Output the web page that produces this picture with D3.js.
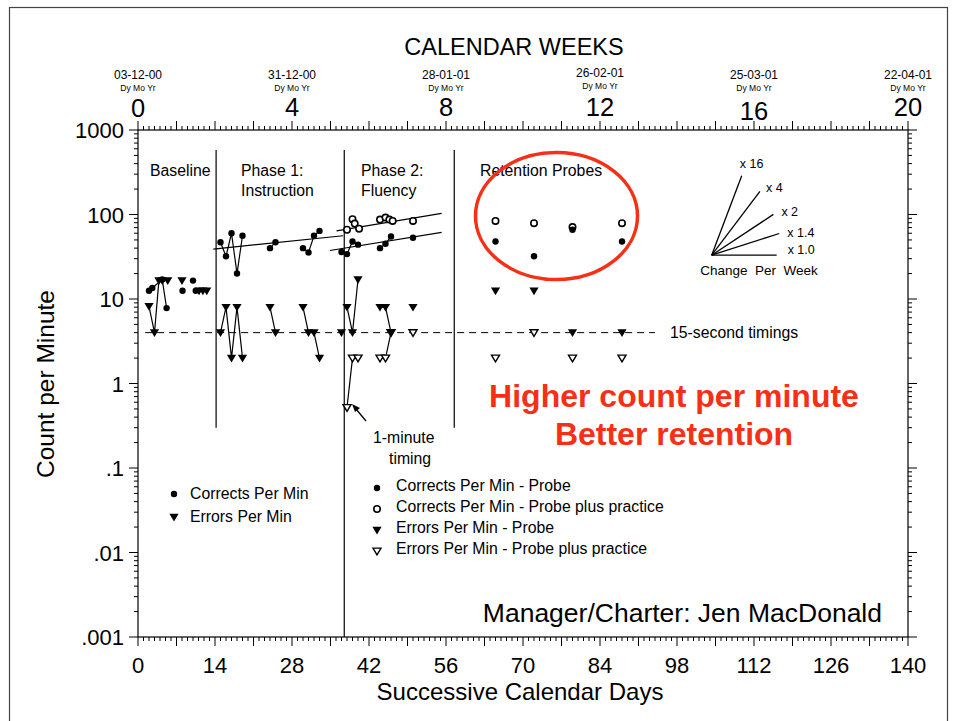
<!DOCTYPE html>
<html>
<head>
<meta charset="utf-8">
<script src="https://cdn.jsdelivr.net/npm/d3@7"></script>
<style>
  body { margin: 0; background: #fff; }
  svg text { font-family: "Liberation Sans", Arial, Helvetica, sans-serif; fill: #000; }
</style>
</head>
<body>
<div id="chart"></div>
<script>
// standard celeration chart - reading program
// values: [day, count per minute, run]
// points with the same run id (not 0) are joined by a line

var corrects = [
  [2, 12.5, 1], [2.6, 13.5, 1], [4.4, 17, 1], [5.2, 7.8, 1],
  [8.1, 12.5, 0], [10, 16.5, 0], [10.5, 12.5, 0],
  [15, 47, 2], [16, 32, 2], [17, 60, 2], [18, 20, 2], [19, 56, 2],
  [24, 40, 3], [25, 47, 3],
  [30, 40, 4], [31, 35.5, 4], [32, 56, 4], [33, 64, 4],
  [37, 36, 5], [38, 34, 5], [39, 48, 5], [40, 44, 5],
  [44, 40, 6], [45, 45, 6], [46, 55, 6], [50, 53, 0]
];

var errors = [
  [2, 8.2, 1], [3, 4, 1], [3.8, 16.5, 1], [4.4, 16.5, 0], [5.4, 16.5, 0],
  [8, 16.5, 0], [11.1, 12.5, 0], [11.8, 12.5, 0], [12.5, 12.5, 0],
  [15, 4, 2], [16, 8, 2], [17, 2, 2], [18, 8, 2], [19, 2, 2],
  [24, 8, 3], [25, 4, 3],
  [30, 8, 4], [31, 4, 4], [32, 4, 4], [33, 2, 4],
  [37, 4, 0], [38, 8, 5], [39, 4, 5], [40, 17, 5],
  [44, 8, 6], [45, 8, 6], [46, 4, 6], [50, 8, 0]
];

// probe only / probe plus practice
var probeCorrects = [[65, 48], [72, 32], [79, 66], [88, 48]];
var practiceCorrects = [
  [38, 66, 0], [39, 88, 0], [39.4, 78, 0], [40.2, 68, 0],
  [44, 87, 0], [45, 92, 0], [45.7, 87, 0], [46.3, 84, 0], [50, 84, 0],
  [65, 84, 0], [72, 79, 0], [79, 71, 0], [88, 79, 0]
];
var probeErrors = [[65, 12.5], [72, 12.5], [79, 4], [88, 4]];
var practiceErrors = [
  [38, 0.52, 1], [39, 2, 1], [40, 2, 1],
  [44, 2, 2], [45, 2, 2], [46, 4, 2],
  [50, 4, 0], [65, 2, 0], [72, 4, 0], [79, 2, 0], [88, 2, 0]
];

// celeration lines: [day from, value from, day to, value to]
var trends = [
  [13.7, 39, 37.3, 56],
  [36.1, 64, 55.2, 103],
  [34.9, 37.5, 55.2, 61.5]
];

var phaseLines = [[14.2, 580, 0.3], [37.5, 580, 0.001], [57.5, 580, 0.3]];
var weekLabels = [0, 4, 8, 12, 16, 20];
var weekDates = ["03-12-00", "31-12-00", "28-01-01", "26-02-01", "25-03-01", "22-04-01"];
var dayLabels = [0, 14, 28, 42, 56, 70, 84, 98, 112, 126, 140];
var countLabels = [1000, 100, 10, 1, 0.1, 0.01, 0.001];
var fanFactors = [1.0, 1.4, 2, 4, 16];
var fanLabels = ["x 1.0", "x 1.4", "x 2", "x 4", "x 16"];

var width = 954, height = 721;
var padL = 138, padR = 908, padT = 130, padB = 637;
var red = "#f62f16";

var x = d3.scaleLinear().domain([0, 140]).range([padL, padR]);
var xw = d3.scaleLinear().domain([0, 20]).range([padL, padR]);
var y = d3.scaleLog().domain([0.001, 1000]).range([padB, padT]);

var svg = d3.select("#chart").append("svg")
    .attr("width", width)
    .attr("height", height);

// outer frame
svg.append("rect")
    .attr("x", 9.5).attr("y", 7.5)
    .attr("width", 938).attr("height", 730)
    .attr("fill", "none")
    .attr("stroke", "#444")
    .attr("stroke-width", 1.2);

// plot box
svg.append("rect")
    .attr("x", padL).attr("y", padT)
    .attr("width", padR - padL).attr("height", padB - padT)
    .attr("fill", "none")
    .attr("stroke", "#000")
    .attr("stroke-width", 1.2);

// day ticks top and bottom
var days = d3.range(0, 141);
var g = svg.append("g").attr("stroke", "#000").attr("stroke-width", 1);
days.forEach(function(d) {
    var big = d % 7 == 0;
    var len = big ? 9 : 4;
    g.append("line")
        .attr("x1", x(d)).attr("x2", x(d))
        .attr("y1", padB).attr("y2", padB + len);
    g.append("line")
        .attr("x1", x(d)).attr("x2", x(d))
        .attr("y1", padT).attr("y2", padT - len);
});

// log ticks left and right
var logTicks = [];
for (var p = -3; p < 3; p++) {
    for (var m = 1; m < 10; m++) {
        logTicks.push([m * Math.pow(10, p), m == 1]);
    }
}
logTicks.push([1000, true]);
logTicks.forEach(function(t) {
    var len = t[1] ? 9 : 4;
    g.append("line")
        .attr("x1", padL - len).attr("x2", padL)
        .attr("y1", y(t[0])).attr("y2", y(t[0]));
    g.append("line")
        .attr("x1", padR).attr("x2", padR + len)
        .attr("y1", y(t[0])).attr("y2", y(t[0]));
});

// axis labels
svg.selectAll(".ylab")
    .data(countLabels)
  .enter().append("text")
    .attr("x", padL - 14)
    .attr("y", function(d) { return y(d) + 8; })
    .attr("text-anchor", "end")
    .style("font-size", "22px")
    .text(function(d) { return d >= 1 ? d : String(d).replace("0.", "."); });

svg.selectAll(".xlab")
    .data(dayLabels)
  .enter().append("text")
    .attr("x", function(d) { return x(d); })
    .attr("y", 673)
    .attr("text-anchor", "middle")
    .style("font-size", "22px")
    .text(function(d) { return d; });

svg.append("text")
    .attr("x", 520).attr("y", 700)
    .attr("text-anchor", "middle")
    .style("font-size", "24px")
    .text("Successive Calendar Days");

svg.append("text")
    .attr("transform", "translate(54,384) rotate(-90)")
    .attr("text-anchor", "middle")
    .style("font-size", "24.5px")
    .text("Count per Minute");

// top axis: calendar weeks
svg.append("text")
    .attr("x", 514).attr("y", 55)
    .attr("text-anchor", "middle")
    .style("font-size", "23.5px")
    .text("CALENDAR WEEKS");

// the original prints the 16 a little lower
var weekShift = [1, 0, 0, 0, 4, 0];
weekLabels.forEach(function(w, i) {
    svg.append("text")
        .attr("x", xw(w)).attr("y", 116 + weekShift[i])
        .attr("text-anchor", "middle")
        .style("font-size", "25.5px")
        .text(w);
    svg.append("text")
        .attr("x", xw(w)).attr("y", i == 3 ? 77 : 79)
        .attr("text-anchor", "middle")
        .style("font-size", "12px")
        .text(weekDates[i]);
    svg.append("text")
        .attr("x", xw(w)).attr("y", i == 3 ? 89 : 91)
        .attr("text-anchor", "middle")
        .style("font-size", "8.5px")
        .text("Dy Mo Yr");
});

// phase change lines
svg.selectAll(".phase")
    .data(phaseLines)
  .enter().append("line")
    .attr("x1", function(d) { return x(d[0]); })
    .attr("x2", function(d) { return x(d[0]); })
    .attr("y1", function(d) { return y(d[1]); })
    .attr("y2", function(d) { return y(d[2]); })
    .attr("stroke", "#000")
    .attr("stroke-width", 1.2);

// 15-second timing floor
svg.append("line")
    .attr("x1", x(1.3)).attr("x2", x(94))
    .attr("y1", y(4)).attr("y2", y(4))
    .attr("stroke", "#000")
    .attr("stroke-width", 1)
    .attr("stroke-dasharray", "7,5");

// trend lines
svg.selectAll(".trend")
    .data(trends)
  .enter().append("line")
    .attr("x1", function(d) { return x(d[0]); })
    .attr("y1", function(d) { return y(d[1]); })
    .attr("x2", function(d) { return x(d[2]); })
    .attr("y2", function(d) { return y(d[3]); })
    .attr("stroke", "#000")
    .attr("stroke-width", 1.2);

// lines joining points of one run
var line = d3.line()
    .x(function(d) { return x(d[0]); })
    .y(function(d) { return y(d[1]); });

function drawRuns(data) {
    var runs = d3.groups(data.filter(function(d) { return d[2] > 0; }), function(d) { return d[2]; });
    runs.forEach(function(r) {
        svg.append("path")
            .attr("d", line(r[1]))
            .attr("fill", "none")
            .attr("stroke", "#000")
            .attr("stroke-width", 1.2);
    });
}

drawRuns(corrects);
drawRuns(errors);
drawRuns(practiceErrors);

var tri = "M-4.6,-3.3L4.6,-3.3L0,4.4Z";

function dot(sel, filled) {
    sel.append("circle")
        .attr("r", 3.2)
        .attr("fill", filled ? "#000" : "#fff")
        .attr("stroke", "#000")
        .attr("stroke-width", filled ? 0 : 1.6);
}

function triangle(sel, filled) {
    sel.append("path")
        .attr("d", filled ? tri : "M-4,-2.9L4,-2.9L0,3.8Z")
        .attr("fill", filled ? "#000" : "#fff")
        .attr("stroke", "#000")
        .attr("stroke-width", filled ? 0 : 1.4);
}

function marks(data, fn, filled) {
    var s = svg.append("g").selectAll("g")
        .data(data)
      .enter().append("g")
        .attr("transform", function(d) { return "translate(" + x(d[0]) + "," + y(d[1]) + ")"; });
    fn(s, filled);
}

marks(practiceErrors, triangle, false);
marks(errors, triangle, true);
marks(probeErrors, triangle, true);
marks(practiceCorrects, dot, false);
marks(corrects, dot, true);
marks(probeCorrects, dot, true);

// phase labels
var labels = [
  ["Baseline", 150, 176], ["Phase 1:", 241, 176], ["Instruction", 241, 196],
  ["Phase 2:", 361, 176], ["Fluency", 361, 196], ["Retention Probes", 480, 176],
  ["15-second timings", 670, 338], ["1-minute", 373, 443], ["timing", 389, 464]
];
labels.forEach(function(l) {
    svg.append("text")
        .attr("x", l[1]).attr("y", l[2])
        .style("font-size", "15.8px")
        .text(l[0]);
});

// arrow to the 1-minute timing
svg.append("line")
    .attr("x1", 366).attr("y1", 421)
    .attr("x2", 356).attr("y2", 409)
    .attr("stroke", "#000")
    .attr("stroke-width", 1.3);
svg.append("path")
    .attr("d", "M352,404L360,408L355,412Z")
    .attr("fill", "#000");

// retention ellipse
svg.append("ellipse")
    .attr("cx", 556.5).attr("cy", 216)
    .attr("rx", 81).attr("ry", 63.5)
    .attr("fill", "none")
    .attr("stroke", red)
    .attr("stroke-width", 3.5);

svg.append("text")
    .attr("x", 674).attr("y", 407)
    .attr("text-anchor", "middle")
    .style("fill", red)
    .style("font-size", "32px")
    .style("font-weight", "bold")
    .text("Higher count per minute");
svg.append("text")
    .attr("x", 674).attr("y", 445)
    .attr("text-anchor", "middle")
    .style("fill", red)
    .style("font-size", "32px")
    .style("font-weight", "bold")
    .text("Better retention");

svg.append("text")
    .attr("x", 882).attr("y", 622)
    .attr("text-anchor", "end")
    .style("font-size", "26.5px")
    .text("Manager/Charter: Jen MacDonald");

// celeration fan, slope taken from the chart scales
var fanDay = 104.3, fanValue = 33;
var fanLen = [65, 71, 74, 80, 85];
var fanText = [[11, -1], [8, 3], [8, 2], [6, 1], [-2, -8]];
var ox = x(fanDay), oy = y(fanValue);
fanFactors.forEach(function(f, i) {
    var dx = x(7) - x(0);
    var dy = y(fanValue * f) - oy;
    var a = Math.atan2(dy, dx);
    var ex = ox + fanLen[i] * Math.cos(a), ey = oy + fanLen[i] * Math.sin(a);
    svg.append("line")
        .attr("x1", ox).attr("y1", oy)
        .attr("x2", ex).attr("y2", ey)
        .attr("stroke", "#000")
        .attr("stroke-width", 1.3);
    svg.append("text")
        .attr("x", ex + fanText[i][0]).attr("y", ey + fanText[i][1])
        .style("font-size", "12.5px")
        .text(fanLabels[i]);
});
svg.append("text")
    .attr("x", 759).attr("y", 275)
    .attr("text-anchor", "middle")
    .attr("xml:space", "preserve")
    .style("white-space", "pre")
    .style("font-size", "13.5px")
    .text("Change  Per  Week");

// legends
var legendLeft = [["Corrects Per Min", dot, true], ["Errors Per Min", triangle, true]];
legendLeft.forEach(function(l, i) {
    var s = svg.append("g").attr("transform", "translate(174," + (494 + i * 23) + ")");
    l[1](s, l[2]);
    svg.append("text")
        .attr("x", 190).attr("y", 499 + i * 23)
        .style("font-size", "15.8px")
        .text(l[0]);
});

var legendRight = [
  ["Corrects Per Min - Probe", dot, true],
  ["Corrects Per Min - Probe plus practice", dot, false],
  ["Errors Per Min - Probe", triangle, true],
  ["Errors Per Min - Probe plus practice", triangle, false]
];
legendRight.forEach(function(l, i) {
    var s = svg.append("g").attr("transform", "translate(377," + (488 + i * 21) + ")");
    l[1](s, l[2]);
    svg.append("text")
        .attr("x", 396).attr("y", 491 + i * 21)
        .style("font-size", "15.8px")
        .text(l[0]);
});
</script>
</body>
</html>
